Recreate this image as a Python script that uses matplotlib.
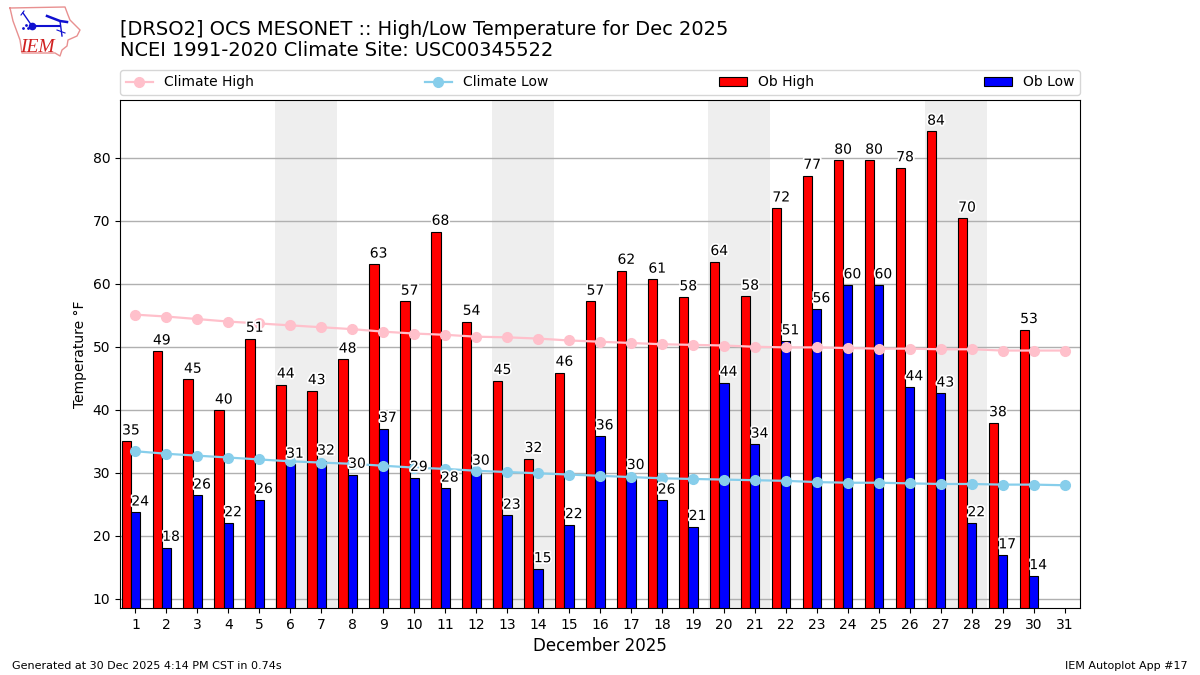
import matplotlib
matplotlib.use("Agg")
import matplotlib.pyplot as plt
import matplotlib.patheffects as pe
from matplotlib.lines import Line2D

days = list(range(1, 32))
ob_high = [35, 49.3, 44.8, 39.9, 51.3, 44, 43, 48, 63.1, 57.2, 68.3, 54, 44.6, 32.2, 45.9,
           57.2, 62.1, 60.7, 57.9, 63.5, 58, 72, 77.2, 79.6, 79.6, 78.4, 84.2, 70.4, 37.9, 52.7]
ob_low = [23.7, 18.1, 26.4, 22, 25.7, 31.3, 31.8, 29.7, 37, 29.2, 27.5, 30.2, 23.2, 14.7, 21.7,
          35.8, 29.5, 25.6, 21.4, 44.3, 34.5, 50.9, 56, 59.8, 59.8, 43.6, 42.6, 22, 16.9, 13.6]
climate_high = [55.1, 54.8, 54.4, 54.0, 53.7, 53.4, 53.1, 52.8, 52.4, 52.1, 51.9, 51.6, 51.5, 51.3, 51.0, 50.8,
                50.6, 50.4, 50.3, 50.2, 50.0, 49.9, 49.9, 49.8, 49.7, 49.7, 49.6, 49.6, 49.4, 49.4, 49.4]
climate_low = [33.4, 33.0, 32.7, 32.4, 32.1, 31.8, 31.6, 31.4, 31.1, 30.8, 30.6, 30.3, 30.1, 29.9, 29.7, 29.5,
               29.3, 29.1, 29.0, 28.9, 28.8, 28.7, 28.5, 28.4, 28.4, 28.3, 28.2, 28.2, 28.1, 28.1, 28.0]
weekends = [(6, 7), (13, 14), (20, 21), (27, 28)]

title = "[DRSO2] OCS MESONET :: High/Low Temperature for Dec 2025\nNCEI 1991-2020 Climate Site: USC00345522"

W, H = 1200, 675
fig = plt.figure(figsize=(12, 6.75), dpi=100)
ax = fig.add_axes([120 / W, 1 - 608 / H, 960 / W, 508 / H])

for a, b in weekends:
    ax.axvspan(a - 0.5, b + 0.5, color="#eeeeee", lw=0, zorder=0)
ax.grid(axis="y", color="#b0b0b0", lw=1, zorder=1)
ax.set_axisbelow(True)

dh = days[:len(ob_high)]
dl = days[:len(ob_low)]
ax.bar([d - 0.3 for d in dh], ob_high, width=0.3, color="red", edgecolor="k",
       lw=0.8, label="Ob High", zorder=2)
ax.bar(dl, ob_low, width=0.3, color="blue", edgecolor="k",
       lw=0.8, label="Ob Low", zorder=2)
ax.plot(days, climate_high, color="pink", marker="o", ms=7, lw=1.6, label="Climate High", zorder=3)
ax.plot(days, climate_low, color="skyblue", marker="o", ms=7, lw=1.6, label="Climate Low", zorder=3)

halo = [pe.withStroke(linewidth=2.5, foreground="white")]
for d, v in zip(dh, ob_high):
    ax.text(d - 0.15, v + 0.6, f"{v:.0f}", ha="center", va="bottom", fontsize=10, path_effects=halo, zorder=4)
for d, v in zip(dl, ob_low):
    ax.text(d + 0.15, v + 0.6, f"{v:.0f}", ha="center", va="bottom", fontsize=10, path_effects=halo, zorder=4)

ax.set_xlim(0.5, 31.5)
ax.set_ylim(8.5, 89.2)
ax.set_xticks(days)
ax.set_yticks(range(10, 90, 10))
ax.set_ylabel("Temperature \u00b0F", fontsize=10, labelpad=4)
ax.set_xlabel("December 2025", fontsize=12, labelpad=4)

handles, labels = ax.get_legend_handles_labels()
order = ["Climate High", "Climate Low", "Ob High", "Ob Low"]
hmap = dict(zip(labels, handles))
ax.legend([hmap[k] for k in order], order, loc="lower left", bbox_to_anchor=(0, 1.01, 1, 0.05),
          mode="expand", ncol=4, borderaxespad=0, fontsize=10)

fig.text(120 / W, 1 - 60 / H, title, fontsize=13.95, ha="left", va="bottom", linespacing=1.15)
fig.text(12 / W, 1 - 671 / H, "Generated at 30 Dec 2025 4:14 PM CST in 0.74s", fontsize=8, ha="left", va="bottom")
fig.text(1188 / W, 1 - 671 / H, "IEM Autoplot App #17", fontsize=8, ha="right", va="bottom")

# logo: state outline, station-model glyph and IEM lettering
logo = fig.add_axes([5 / W, 1 - 63 / H, 80 / W, 60 / H])
logo.set_xlim(5, 85)
logo.set_ylim(63, 3)
logo.axis("off")
logo.add_line(Line2D([10, 65, 68, 70, 80, 77, 68, 67, 62, 60, 55, 22, 20, 13, 10],
                     [8, 7, 15, 20, 30, 36, 40, 46, 50, 56, 53, 53, 40, 21, 8],
                     color="#e89090", lw=1))
blue = "#1010d0"
logo.add_line(Line2D([32, 60], [26, 26], color=blue, lw=1.5))
logo.add_line(Line2D([32, 23], [26, 13], color=blue, lw=1))
logo.add_line(Line2D([21, 24], [15, 11], color=blue, lw=0.8))
logo.add_line(Line2D([47, 60, 67], [16, 21, 22], color=blue, lw=1.8))
logo.add_line(Line2D([60, 62], [21, 36], color=blue, lw=1))
logo.add_line(Line2D([57, 65], [30, 33], color=blue, lw=0.8))
logo.plot([32], [26], "o", color=blue, ms=4.5)
logo.plot([23, 26, 28], [28, 25, 28], ".", color=blue, ms=2)
logo.text(20.5, 51.5, "IEM", color="#d02020", fontsize=14, family="Liberation Serif", style="italic", va="baseline")

fig.savefig("out.png", dpi=100)
